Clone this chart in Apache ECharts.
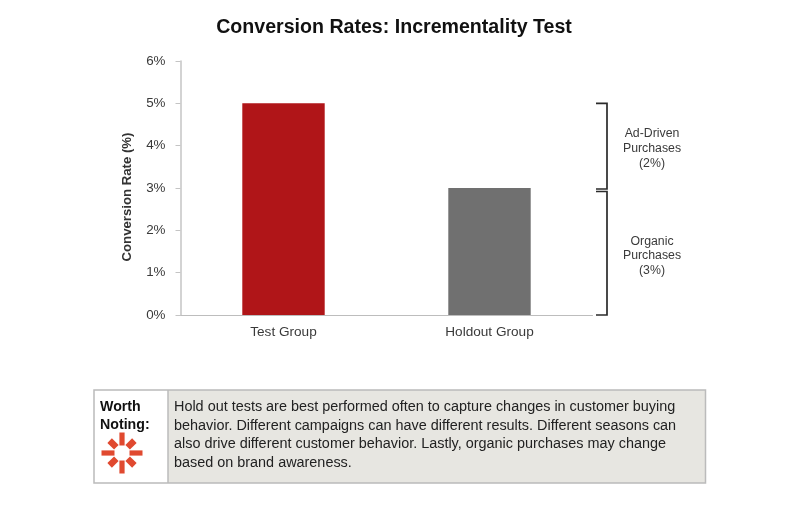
<!DOCTYPE html>
<html>
<head>
<meta charset="utf-8">
<style>html,body{margin:0;padding:0;background:#fff}#c{width:793px;height:516px}</style>
<script src="https://cdn.jsdelivr.net/npm/echarts@6/dist/echarts.min.js"></script>
</head>
<body>
<div id="c"></div>
<script>
const titleText = 'Conversion Rates: Incrementality Test';
const yAxisName = 'Conversion Rate (%)';
const categories = ['Test Group', 'Holdout Group'];
const rates = [5, 3];
const barColors = ['#B01518', '#707070'];
const bracketRanges = [[3, 5], [0, 3]];
const bracketLabels = ['Ad-Driven\nPurchases\n(2%)', 'Organic\nPurchases\n(3%)'];
const noteHeading = 'Worth\nNoting:';
const noteLines = [
  'Hold out tests are best performed often to capture changes in customer buying',
  'behavior. Different campaigns can have different results. Different seasons can',
  'also drive different customer behavior. Lastly, organic purchases may change',
  'based on brand awareness.'
];
const FONT = '"Liberation Sans", Arial, sans-serif';

const chart = echarts.init(document.getElementById('c'), null, {renderer: 'canvas'});
chart.setOption({
  animation: false,
  backgroundColor: '#fff',
  title: {
    text: titleText, left: 389, top: 13, textAlign: 'center',
    textStyle: {fontFamily: FONT, fontSize: 19.6, fontWeight: 'bold', color: '#111'}
  },
  grid: {left: 180.5, right: 200.5, top: 61, bottom: 201, containLabel: false},
  xAxis: {
    type: 'category', data: categories,
    axisLine: {lineStyle: {color: '#BDBDBD', width: 1}},
    axisTick: {show: false},
    axisLabel: {fontFamily: FONT, fontSize: 13.6, color: '#3a3a3a', margin: 10}
  },
  yAxis: {
    type: 'value', min: 0, max: 6, interval: 1,
    name: yAxisName, nameLocation: 'middle', nameGap: 47, nameRotate: 90,
    nameTextStyle: {fontFamily: FONT, fontSize: 13.2, fontWeight: 'bold', color: '#333', padding: [0, 18, 0, 0]},
    axisLine: {show: true, lineStyle: {color: '#C4C4C4', width: 1.5}},
    axisTick: {show: true, length: 5, lineStyle: {color: '#C4C4C4', width: 1}},
    splitLine: {show: false},
    axisLabel: {fontFamily: FONT, fontSize: 13.4, color: '#3a3a3a', margin: 15, formatter: '{value}%'}
  },
  series: [{
    type: 'bar', barWidth: '40%',
    data: rates.map((v, i) => ({value: v, itemStyle: {color: barColors[i]}}))
  }]
});

// Annotations: brackets are positioned through the chart's own y scale
const g = [];
const xOf = 593, xSpine = 607, xLabel = 652;
bracketRanges.forEach((r, i) => {
  const yTop = chart.convertToPixel({yAxisIndex: 0}, r[1]);
  const yBot = chart.convertToPixel({yAxisIndex: 0}, r[0]);
  const a = yTop + (i === 0 ? 0 : 3.5);
  const b = yBot + (i === 0 ? 1 : 0);
  g.push({
    type: 'polyline', silent: true,
    shape: {points: [[xOf + 3, a], [xSpine, a], [xSpine, b], [xOf + 3, b]]},
    style: {fill: 'none', stroke: '#2b2b2b', lineWidth: 1.7}
  });
  g.push({
    type: 'text', silent: true,
    style: {
      x: xLabel, y: (yTop + yBot) / 2 + (i === 0 ? 3 : 4.5),
      text: bracketLabels[i], align: 'center', verticalAlign: 'middle',
      fontFamily: FONT, fontSize: 12.3, lineHeight: 14.6, fill: '#3a3a3a'
    }
  });
});

// Note box
const box = {l: 94, t: 390, r: 705.5, b: 483, div: 168};
g.push({type: 'rect', silent: true, shape: {x: box.div, y: box.t, width: box.r - box.div, height: box.b - box.t}, style: {fill: '#E7E6E1'}});
g.push({type: 'rect', silent: true, shape: {x: box.l, y: box.t, width: box.r - box.l, height: box.b - box.t}, style: {fill: 'none', stroke: '#BBBBBB', lineWidth: 1.5}});
g.push({type: 'line', silent: true, shape: {x1: box.div, y1: box.t, x2: box.div, y2: box.b}, style: {stroke: '#BBBBBB', lineWidth: 1.5}});
g.push({type: 'text', silent: true, style: {x: 100, y: 398, text: noteHeading, fontFamily: FONT, fontSize: 14.2, fontWeight: 'bold', lineHeight: 18, fill: '#111'}});
noteLines.forEach((t, i) => {
  g.push({type: 'text', silent: true, style: {x: 174, y: 407 + i * 18.7, text: t, verticalAlign: 'middle', fontFamily: FONT, fontSize: 14.42, fill: '#222'}});
});

// Logo
const cx = 122, cy = 453, red = '#E0492F';
for (let k = 0; k < 8; k++) {
  const long = k % 2 === 0;
  const h = long ? 13 : 9.5;
  const inner = long ? 7.5 : 8;
  const w = long ? 5.2 : 6.4;
  g.push({
    type: 'rect', silent: true,
    x: cx, y: cy, rotation: -k * Math.PI / 4,
    shape: {x: -w / 2, y: -(inner + h), width: w, height: h},
    style: {fill: red}
  });
}
chart.setOption({graphic: {elements: g}});
</script>
</body>
</html>
